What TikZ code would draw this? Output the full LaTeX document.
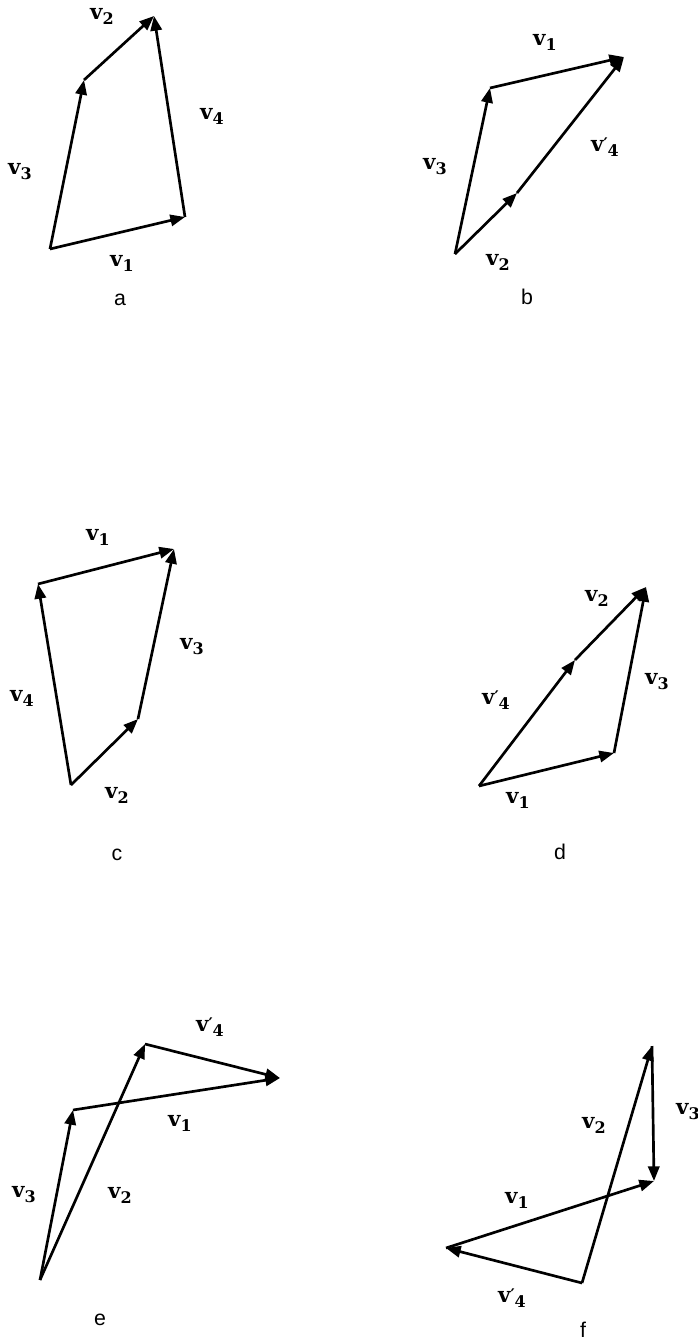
\documentclass[tikz,border=0pt]{standalone}
\usepackage{fontspec}
\usepackage{tikz}
\usetikzlibrary{arrows.meta}
\newfontfamily\vecfont{DejaVu Serif}
\newfontfamily\panelfont{Liberation Sans}
% vector labels: bold v with index, and with a prime
\newcommand{\vlab}[1]{v\raisebox{-0.45ex}{\fontsize{12}{12}\selectfont #1}}
\newcommand{\vplab}[1]{v\raisebox{0.2ex}{\fontsize{12}{12}\selectfont ′}\raisebox{-0.45ex}{\fontsize{12}{12}\selectfont #1}}

\begin{document}
\begin{tikzpicture}[x=0.75pt, y=-0.75pt,
    vec/.style={-{Triangle[length=11pt, width=8.5pt]}, line width=2pt},
    lab/.style={font=\vecfont\bfseries\fontsize{16}{18}\selectfont, inner sep=0pt},
    panel/.style={font=\panelfont\fontsize{16}{18}\selectfont, inner sep=0pt}]
    \useasboundingbox (0,0) rectangle (698,1343);
    % (a) closed polygon v1, v4 against v3, v2
    \coordinate (aO) at (50,249);
    \coordinate (aP) at (185,217);
    \coordinate (aQ) at (84,80);
    \coordinate (aT) at (154,16);
    \draw[vec] (aO) -- (aP);
    \draw[vec] (aO) -- (aQ);
    \draw[vec] (aQ) -- (aT);
    \draw[vec] (aP) -- (aT);
    \node[lab] (av2) at (102,16) {\vlab{2}};
    \node[lab] (av4) at (212,116) {\vlab{4}};
    \node[lab] (av3) at (20,172) {\vlab{3}};
    \node[lab] (av1) at (122,263) {\vlab{1}};
    \node[panel] (pa) at (120,300) {a};
    % (b)
    \coordinate (bO) at (455,254);
    \coordinate (bQ) at (490,88);
    \coordinate (bT) at (624,57);
    \coordinate (bP) at (517,193);
    \draw[vec] (bO) -- (bQ);
    \draw[vec] (bQ) -- (bT);
    \draw[vec] (bO) -- (bP);
    \draw[vec] (bP) -- (bT);
    \node[lab] (bv1) at (545,42) {\vlab{1}};
    \node[lab] (bv3) at (435,167) {\vlab{3}};
    \node[lab] (bv4) at (605,147) {\vplab{4}};
    \node[lab] (bv2) at (498,262) {\vlab{2}};
    \node[panel] (pb) at (527,297) {b};
    % (c)
    \coordinate (cO) at (71,785);
    \coordinate (cP) at (138,719);
    \coordinate (cT) at (174,549);
    \coordinate (cQ) at (38,584);
    \draw[vec] (cO) -- (cP);
    \draw[vec] (cP) -- (cT);
    \draw[vec] (cO) -- (cQ);
    \draw[vec] (cQ) -- (cT);
    \node[lab] (cv1) at (98,537) {\vlab{1}};
    \node[lab] (cv3) at (192,647) {\vlab{3}};
    \node[lab] (cv4) at (22,698) {\vlab{4}};
    \node[lab] (cv2) at (117,795) {\vlab{2}};
    \node[panel] (pc) at (117,855) {c};
    % (d)
    \coordinate (dO) at (479,786);
    \coordinate (dP) at (614,753);
    \coordinate (dT) at (646,587);
    \coordinate (dQ) at (575,660);
    \draw[vec] (dO) -- (dP);
    \draw[vec] (dP) -- (dT);
    \draw[vec] (dO) -- (dQ);
    \draw[vec] (dQ) -- (dT);
    \node[lab] (dv2) at (597,598) {\vlab{2}};
    \node[lab] (dv3) at (657,682) {\vlab{3}};
    \node[lab] (dv4) at (496,700) {\vplab{4}};
    \node[lab] (dv1) at (518,800) {\vlab{1}};
    \node[panel] (pd) at (560,852) {d};
    % (e) crossing sides
    \coordinate (eO) at (40,1280);
    \coordinate (eQ) at (73,1110);
    \coordinate (eT) at (280,1078);
    \coordinate (eP) at (145,1044);
    \draw[vec] (eO) -- (eQ);
    \draw[vec] (eQ) -- (eT);
    \draw[vec] (eO) -- (eP);
    \draw[vec] (eP) -- (eT);
    \node[lab] (ev4) at (210,1027) {\vplab{4}};
    \node[lab] (ev1) at (180,1123) {\vlab{1}};
    \node[lab] (ev3) at (24,1195) {\vlab{3}};
    \node[lab] (ev2) at (120,1195) {\vlab{2}};
    \node[panel] (pe) at (100,1320) {e};
    % (f)
    \coordinate (fO) at (582,1283);
    \coordinate (fQ) at (446,1248);
    \coordinate (fT) at (654,1181);
    \coordinate (fP) at (652,1046);
    \draw[vec] (fO) -- (fQ);
    \draw[vec] (fQ) -- (fT);
    \draw[vec] (fO) -- (fP);
    \draw[vec] (fP) -- (fT);
    \node[lab] (fv3) at (688,1112) {\vlab{3}};
    \node[lab] (fv2) at (594,1125) {\vlab{2}};
    \node[lab] (fv1) at (517,1200) {\vlab{1}};
    \node[lab] (fv4) at (512,1298) {\vplab{4}};
    \node[panel] (pf) at (583,1330) {f};
\end{tikzpicture}
\end{document}
